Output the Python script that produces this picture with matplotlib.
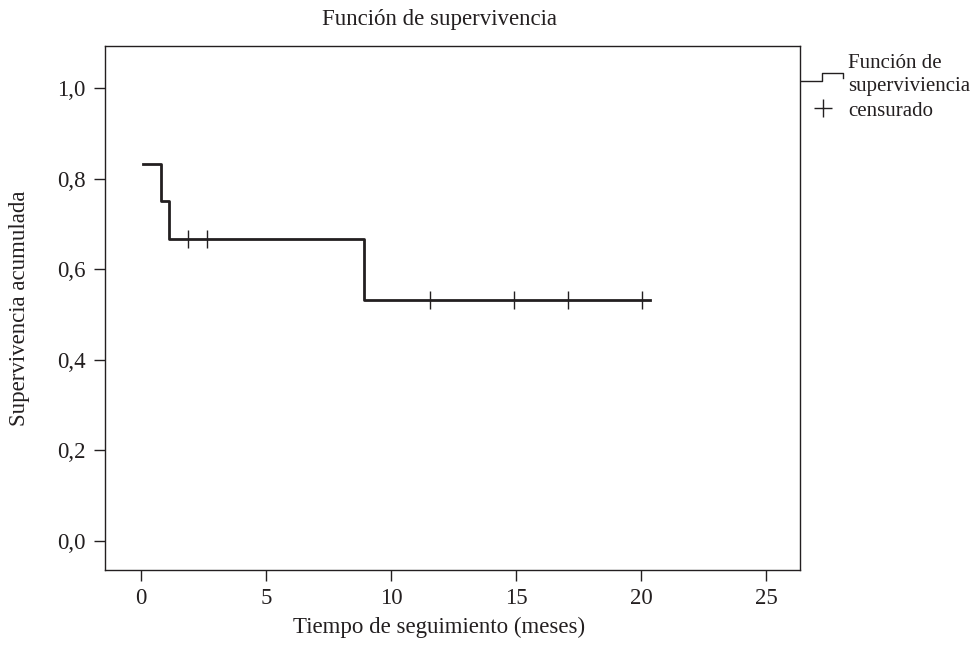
import numpy as np
import matplotlib
matplotlib.use('Agg')
import matplotlib.pyplot as plt
from matplotlib.lines import Line2D

# Kaplan-Meier step data.
tiempos = [0.09, 0.79, 1.13, 8.91, 20.36]
supervivencia = [0.833, 0.750, 0.667, 0.533, 0.533]
censura_t = [1.87, 2.63, 11.56, 14.92, 17.08, 20.04]
censura_s = [0.667, 0.667, 0.533, 0.533, 0.533, 0.533]

xticks = [0, 5, 10, 15, 20, 25]
yticks = [0.0, 0.2, 0.4, 0.6, 0.8, 1.0]
ytick_labels = ['0,0', '0,2', '0,4', '0,6', '0,8', '1,0']

plt.rcParams['font.family'] = ['Liberation Serif', 'DejaVu Serif']
color = '#231f20'
fs = 16.5

fig = plt.figure(figsize=(9.76, 6.46), dpi=100)
ax = fig.add_axes([0.1076, 0.1176, 0.7121, 0.8111])

ax.step(tiempos, supervivencia, where='post', color=color, lw=2.0)
ax.plot(censura_t, censura_s, ls='none', marker='|', ms=13, mew=1.0, color=color)

ax.set_xlim(-1.44, 26.36)
ax.set_ylim(-0.064, 1.093)
ax.set_xticks(xticks)
ax.set_xticklabels([str(v) for v in xticks])
ax.set_yticks(yticks)
ax.set_yticklabels(ytick_labels)
ax.tick_params(direction='out', length=8, width=1, labelsize=fs, colors=color, pad=5)
ax.tick_params(axis='y', pad=6)
for s in ax.spines.values():
    s.set_linewidth(1.0)
    s.set_color(color)

ax.set_xlabel('Tiempo de seguimiento (meses)', fontsize=fs, color=color, va='center')
ax.xaxis.set_label_coords(0.48, -0.11)
ax.set_ylabel('Supervivencia acumulada', fontsize=fs, color=color, va='center')
ax.yaxis.set_label_coords(-0.123, 0.5)
fig.text(0.45, 0.97, 'Función de supervivencia', ha='center', va='center', fontsize=fs, color=color)

# Legend drawn outside the axes on the right.
W, H = 976.0, 646.0
lx = [801 / W, 822 / W, 822 / W, 843 / W, 843 / W]
ly = [1 - 81 / H, 1 - 81 / H, 1 - 73 / H, 1 - 73 / H, 1 - 78 / H]
fig.add_artist(Line2D(lx, ly, transform=fig.transFigure, color=color, lw=1.0))
fig.add_artist(Line2D([823 / W], [1 - 108 / H], transform=fig.transFigure, ls='none',
                      marker='+', ms=13, mew=1.0, color=color))
fig.text(848 / W, 1 - 63 / H, 'Función de', fontsize=15, color=color, va='center', ha='left')
fig.text(848 / W, 1 - 87 / H, 'superviviencia', fontsize=15, color=color, va='center', ha='left')
fig.text(848 / W, 1 - 111 / H, 'censurado', fontsize=15, color=color, va='center', ha='left')

fig.savefig('out.png', dpi=100)
